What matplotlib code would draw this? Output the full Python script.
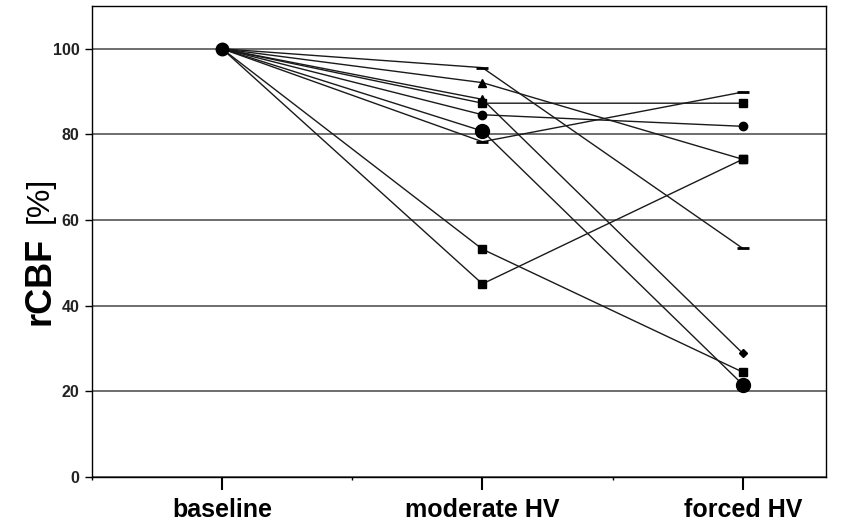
import matplotlib.pyplot as plt
from matplotlib import font_manager

# phases on the x axis
phases = ["baseline", "moderate HV", "forced HV"]

# rCBF [%] per subject: baseline, moderate HV, forced HV
baseline = [100, 100, 100, 100, 100, 100, 100, 100, 100]
moderate = [95.6, 92.1, 88.2, 87.3, 84.6, 80.8, 78.3, 53.2, 45.1]
forced = [53.4, 74.2, 28.9, 87.3, 81.9, 21.6, 89.9, 24.5, 74.2]

# marker shown at moderate / forced for each subject
mod_markers = ["_", "^", "^", "s", "o", "o", "_", "s", "s"]
frc_markers = ["_", "s", "D", "s", "o", "o", "_", "s", "s"]
mod_sizes = [9, 6, 6, 6, 6, 10, 9, 6, 6]
frc_sizes = [9, 6, 4, 6, 6, 10, 9, 6, 6]

names = {f.name for f in font_manager.fontManager.ttflist}
narrow = "Liberation Sans Narrow" if "Liberation Sans Narrow" in names else "Liberation Sans"

plt.rcParams["font.family"] = ["Liberation Sans", "DejaVu Sans"]

fig = plt.figure(figsize=(8.67, 5.26), dpi=100)
ax = fig.add_axes([92 / 867, 1 - 477 / 526, (826 - 92) / 867, (477 - 6) / 526])

x = list(range(len(phases)))
for i in range(len(moderate)):
    ys = [baseline[i], moderate[i], forced[i]]
    ax.plot(x, ys, color="#1a1a1a", lw=1.0, zorder=3)
    ax.plot(x[1], moderate[i], marker=mod_markers[i], ms=mod_sizes[i],
            color="black", mew=2 if mod_markers[i] == "_" else 1, zorder=4)
    ax.plot(x[2], forced[i], marker=frc_markers[i], ms=frc_sizes[i],
            color="black", mew=2 if frc_markers[i] == "_" else 1, zorder=4)

ax.plot(x[0], baseline[0], marker="o", ms=9, color="black", zorder=5)

ax.set_xlim(-0.5, 2.32)
ax.set_ylim(0, 110)

ax.set_yticks([0, 20, 40, 60, 80, 100])
ax.set_yticklabels(["0", "20", "40", "60", "80", "100"], fontsize=11.5,
                   fontweight="bold", color="#222222")
ax.yaxis.grid(True, color="#555555", lw=1.2)
ax.set_axisbelow(True)

ax.set_xticks(x)
ax.set_xticklabels(phases, fontsize=18, fontweight="bold", family=[narrow, "DejaVu Sans"])
ax.set_xticks([-0.5, 0.5, 1.5], minor=True)
ax.tick_params(axis="x", which="major", length=9, width=1.5, pad=6)
ax.tick_params(axis="x", which="minor", length=2, width=1)
ax.tick_params(axis="y", length=5, width=1, pad=4)

for s in ax.spines.values():
    s.set_linewidth(1.0)
    s.set_color("black")

fig.text(40 / 867, 1 - 281 / 526, "rCBF", rotation=90, fontsize=26,
         fontweight="bold", ha="center", va="center")
fig.text(40 / 867, 1 - 200 / 526, "[%]", rotation=90, fontsize=23,
         ha="center", va="center")

fig.savefig("out.png", dpi=100)
